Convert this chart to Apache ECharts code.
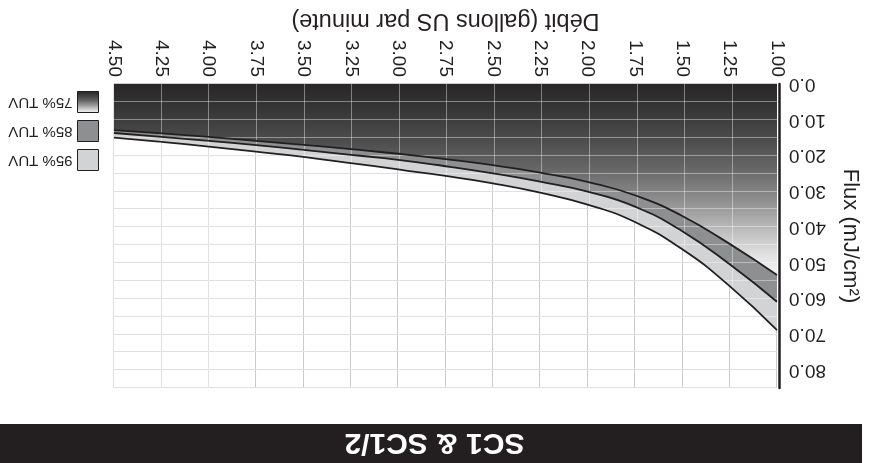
<!DOCTYPE html>
<html>
<head>
<meta charset="utf-8">
<script src="https://cdn.jsdelivr.net/npm/echarts@6/dist/echarts.min.js"></script>
<style>
html,body{margin:0;padding:0;background:#fff;}
#main{width:869px;height:463px;transform:rotate(180deg);transform-origin:50% 50%;}
</style>
</head>
<body>
<div id="main"></div>
<script>
// Flow (US gallons per minute)
const flow = [1.00, 1.25, 1.50, 1.75, 2.00, 2.25, 2.50, 2.75, 3.00, 3.25, 3.50, 3.75, 4.00, 4.25, 4.50];
// Dose (mJ/cm2) for each UV transmittance
const tuv75 = [53.4, 44.7, 36.9, 31.1, 27.4, 24.8, 22.7, 21.0, 19.5, 18.2, 17.0, 15.9, 14.8, 13.8, 12.9];
const tuv85 = [60.9, 50.4, 41.2, 34.3, 30.1, 27.3, 25.0, 23.0, 21.2, 19.8, 18.4, 17.1, 15.9, 14.8, 13.7];
const tuv95 = [68.8, 56.5, 46.2, 38.6, 33.7, 30.4, 27.8, 25.7, 23.9, 22.1, 20.4, 18.9, 17.5, 16.2, 15.0];
const seriesNames = ['75% TUV', '85% TUV', '95% TUV'];
const xTickLabels = ['1.00','1.25','1.50','1.75','2.00','2.25','2.50','2.75','3.00','3.25','3.50','3.75','4.00','4.25','4.50'];
const yTickLabels = ['0.0','10.0','20.0','30.0','40.0','50.0','60.0','70.0','80.0'];

const pairs = arr => flow.map((f, i) => [f, arr[i]]);
const ink = '#231f20';
const font = 'Liberation Sans, Arial, Helvetica, sans-serif';

const grad = () => new echarts.graphic.LinearGradient(0, 0, 0, 1, [
  {offset: 0, color: '#f4f4f4'},
  {offset: 0.1, color: '#e2e2e2'},
  {offset: 0.25, color: '#b8b8b8'},
  {offset: 0.4, color: '#8c8c8c'},
  {offset: 0.55, color: '#686868'},
  {offset: 0.7, color: '#4d4d4d'},
  {offset: 0.85, color: '#393939'},
  {offset: 1, color: '#282627'}
]);
const c85 = '#8e8f91';
const c95 = '#d1d3d4';

const gridBox = {left: 89, right: 114, top: 75, bottom: 84};
const smoothK = 0.5;

const chart = echarts.init(document.getElementById('main'), null, {renderer: 'canvas'});
chart.setOption({
  animation: false,
  backgroundColor: '#fff',
  graphic: [{
    type: 'rect', z: 0,
    shape: {x: 7, y: 0, width: 862, height: 39},
    style: {fill: ink}
  }],
  title: {
    text: 'SC1 & SC1/2',
    left: 'center', top: 1, z: 10,
    textStyle: {color: '#ffffff', fontSize: 30, fontWeight: 'bold', fontFamily: font}
  },
  legend: {
    orient: 'vertical', left: 770, top: 292, padding: 0,
    itemWidth: 21, itemHeight: 21, itemGap: 7, icon: 'rect',
    selectedMode: false,
    textStyle: {color: ink, fontSize: 15, fontFamily: font},
    data: [
      {name: seriesNames[2], itemStyle: {color: c95, borderColor: ink, borderWidth: 1}},
      {name: seriesNames[1], itemStyle: {color: c85, borderColor: ink, borderWidth: 1}},
      {name: seriesNames[0], itemStyle: {color: grad(), borderColor: ink, borderWidth: 1}}
    ]
  },
  grid: [Object.assign({}, gridBox), Object.assign({}, gridBox)],
  xAxis: [{
    gridIndex: 0, type: 'value', min: 1, max: 4.5, interval: 0.25, z: 0,
    name: 'Débit (gallons US par minute)', nameLocation: 'middle', nameGap: 52,
    nameTextStyle: {color: ink, fontSize: 23.5, fontFamily: font},
    axisLine: {show: false}, axisTick: {show: false},
    axisLabel: {rotate: 90, margin: 7, color: ink, fontSize: 19, fontFamily: font,
      formatter: v => xTickLabels[Math.round((v - 1) / 0.25)] || ''},
    splitLine: {show: true, lineStyle: {color: '#cbcbcb', width: 1}}
  }, {
    gridIndex: 1, type: 'value', min: 1, max: 4.5, interval: 0.25, z: 5,
    axisLine: {show: false}, axisTick: {show: false}, axisLabel: {show: false},
    splitLine: {show: true, lineStyle: {color: 'rgba(255,255,255,0.4)', width: 1}}
  }],
  yAxis: [{
    gridIndex: 0, type: 'value', min: 0, max: 85, interval: 5, z: 0,
    name: 'Flux (mJ/cm²)', nameLocation: 'middle', nameGap: 62,
    nameTextStyle: {color: ink, fontSize: 22, fontFamily: font},
    axisLine: {show: false}, axisTick: {show: false},
    axisLabel: {margin: 12, color: ink, fontSize: 19, fontFamily: font,
      formatter: v => (v % 10 === 0 ? (yTickLabels[v / 10] || '') : '')},
    splitLine: {show: true, lineStyle: {color: '#cbcbcb', width: 1}}
  }, {
    gridIndex: 1, type: 'value', min: 0, max: 85, interval: 5, z: 5,
    axisLine: {show: true, lineStyle: {color: ink, width: 2.5}},
    axisTick: {show: false}, axisLabel: {show: false},
    splitLine: {show: true, showMinLine: false, lineStyle: {color: 'rgba(255,255,255,0.4)', width: 1}}
  }],
  series: [
    {name: seriesNames[2], type: 'line', xAxisIndex: 0, yAxisIndex: 0, z: 2,
      data: pairs(tuv95), smooth: smoothK, showSymbol: false, lineStyle: {width: 0},
      areaStyle: {color: c95, opacity: 1}, itemStyle: {color: c95}},
    {name: seriesNames[1], type: 'line', xAxisIndex: 0, yAxisIndex: 0, z: 2,
      data: pairs(tuv85), smooth: smoothK, showSymbol: false, lineStyle: {width: 0},
      areaStyle: {color: c85, opacity: 1}, itemStyle: {color: c85}},
    {name: seriesNames[0], type: 'line', xAxisIndex: 0, yAxisIndex: 0, z: 2,
      data: pairs(tuv75), smooth: smoothK, showSymbol: false, lineStyle: {width: 0},
      areaStyle: {color: grad(), opacity: 1}, itemStyle: {color: '#555'}},
    {name: 'l95', type: 'line', xAxisIndex: 0, yAxisIndex: 0, z: 6,
      data: pairs(tuv95), smooth: smoothK, showSymbol: false, lineStyle: {color: ink, width: 1.8}},
    {name: 'l85', type: 'line', xAxisIndex: 0, yAxisIndex: 0, z: 6,
      data: pairs(tuv85), smooth: smoothK, showSymbol: false, lineStyle: {color: ink, width: 1.8}},
    {name: 'l75', type: 'line', xAxisIndex: 0, yAxisIndex: 0, z: 6,
      data: pairs(tuv75), smooth: smoothK, showSymbol: false, lineStyle: {color: ink, width: 1.8}}
  ]
});
</script>
</body>
</html>
